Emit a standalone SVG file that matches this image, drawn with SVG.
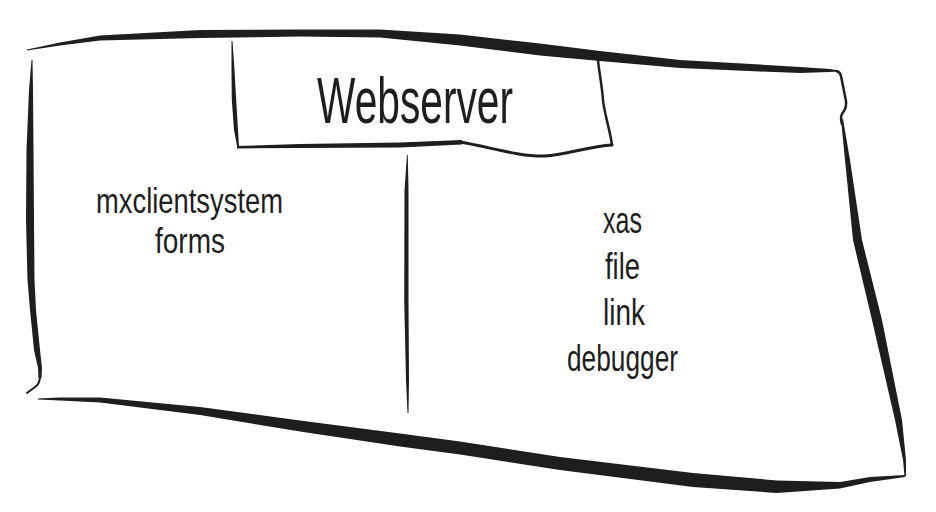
<svg xmlns="http://www.w3.org/2000/svg" width="936" height="512" viewBox="0 0 936 512">
  <style>
    .ink { fill: #1e1e1e; stroke: none; }
    .pen { fill: none; stroke: #1e1e1e; stroke-linecap: round; stroke-linejoin: round; }
    .lbl { font-family: "Liberation Sans", Arial, sans-serif; fill: #1e1e1e; text-anchor: start; }
  </style>
  <rect width="936" height="512" fill="#ffffff"/>
  <g id="webserver">
    <!-- top edge -->
    <polygon class="ink" points="27,49.5 60,42.5 100,35.5 200,30 300,29.5 380,29.5 460,34.5 540,43.5 600,51 680,60 760,64.5 800,67 830,69 838,70.5 838,71.5 830,72 800,73 760,71.5 680,68 600,61 540,55.5 460,45.5 380,37.5 300,36.5 200,38 100,40.5 60,45.5 27,50.5"/>
    <!-- right edge -->
    <path class="pen" stroke-width="2.5" d="M836,71 Q840,71.5 841,76 L846,101 Q847,108 842,114 Q840,118 842,124"/>
    <polygon class="ink" points="841,119 845,160 853,240 872,320 895,420 903,460 904.5,476 906,476 906,460 902,420 882,320 862,240 850,160 843,119"/>
    <!-- bottom edge -->
    <polygon class="ink" points="905,475 870,477 840,482 777,480.5 693,473 560,457 460,441.5 400,433.5 300,420.5 200,407 100,397.5 60,397.5 38,398.5 38,399.5 60,400.5 100,402.5 200,415 300,431.5 400,446.5 460,454.5 560,470 693,487 777,493 840,488.5 870,482 905,477"/>
    <!-- left edge -->
    <polygon class="ink" points="31.5,60 29,90 26.5,150 26,220 27.5,280 30,310 34,350 38,368 38.5,378 41.5,378 42,368 40,350 36,310 34.5,280 34,220 33.5,150 33,90 32.5,60"/>
    <path class="pen" stroke-width="2" d="M40,376 Q40,384 35,387 L27,393"/>
  </g>
  <g id="title">
    <polygon class="ink" points="231.5,41 231.5,70 231.8,100 234,130 237,146 239,146 238,130 236.2,100 234.5,70 232.5,41"/>
    <polygon class="ink" points="237,146 300,144 400,142.5 462,140 462,144.5 400,147.5 300,148 237,148.5"/>
    <path class="pen" stroke-width="3" d="M460,142 C490,147 520,157 545,156 C565,155 590,146 612,145"/>
    <path class="pen" stroke-width="2.5" d="M612,145 C610,130 604,112 603,100 C602,85 599,72 598,60"/>
    <text class="lbl" x="317" y="123" font-size="64" textLength="196" lengthAdjust="spacingAndGlyphs">Webserver</text>
  </g>
  <g id="divider">
    <polygon class="ink" points="407,155 404.5,190 404.2,300 406,380 407.5,413 408.5,413 409,380 408.5,300 408.5,190 407.8,155"/>
  </g>
  <g id="left-panel">
    <text class="lbl" x="96" y="213" font-size="35" textLength="187" lengthAdjust="spacingAndGlyphs">mxclientsystem</text>
    <text class="lbl" x="155" y="253" font-size="35" textLength="70" lengthAdjust="spacingAndGlyphs">forms</text>
  </g>
  <g id="right-panel">
    <text class="lbl" x="603" y="233" font-size="37" textLength="39" lengthAdjust="spacingAndGlyphs">xas</text>
    <text class="lbl" x="605" y="279" font-size="37" textLength="35" lengthAdjust="spacingAndGlyphs">file</text>
    <text class="lbl" x="603" y="325" font-size="37" textLength="42" lengthAdjust="spacingAndGlyphs">link</text>
    <text class="lbl" x="567" y="371" font-size="37" textLength="111" lengthAdjust="spacingAndGlyphs">debugger</text>
  </g>
</svg>
